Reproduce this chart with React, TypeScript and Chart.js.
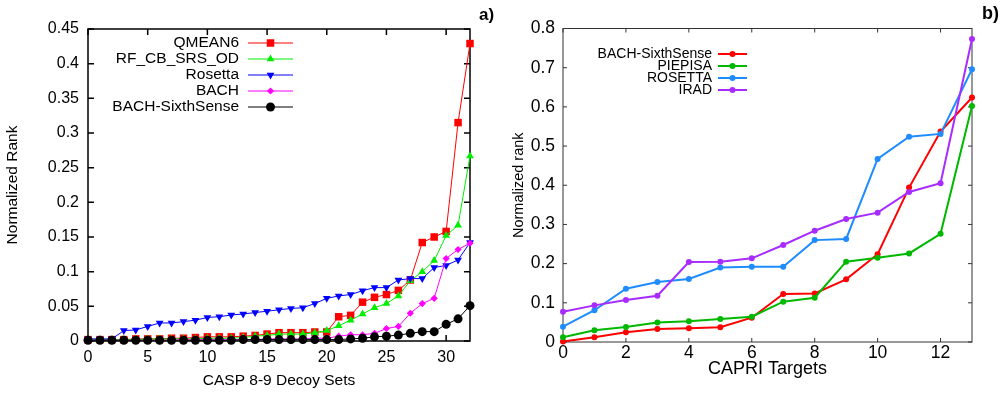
import React, { useEffect, useRef } from 'react';
import { Chart, registerables } from 'chart.js';
import { drawPoint } from 'chart.js/helpers';

Chart.register(...registerables);

// ---------- Panel a) CASP 8-9 decoy sets ----------
const caspSets = [0, 1, 2, 3, 4, 5, 6, 7, 8, 9, 10, 11, 12, 13, 14, 15, 16, 17, 18, 19, 20, 21, 22, 23, 24, 25, 26, 27, 28, 29, 30, 31, 32];
const qmean6 = [0.002, 0.002, 0.002, 0.002, 0.003, 0.003, 0.003, 0.004, 0.004, 0.005, 0.006, 0.006, 0.006, 0.007, 0.008, 0.010, 0.012, 0.012, 0.012, 0.013, 0.013, 0.035, 0.037, 0.056, 0.063, 0.067, 0.073, 0.088, 0.142, 0.150, 0.158, 0.315, 0.429];
const rfCbSrsOd = [0.002, 0.002, 0.002, 0.002, 0.002, 0.003, 0.003, 0.003, 0.003, 0.003, 0.004, 0.004, 0.004, 0.005, 0.007, 0.008, 0.010, 0.010, 0.010, 0.012, 0.015, 0.022, 0.030, 0.039, 0.048, 0.054, 0.065, 0.087, 0.100, 0.116, 0.152, 0.167, 0.267];
const rosetta = [0.003, 0.003, 0.003, 0.015, 0.016, 0.021, 0.026, 0.026, 0.028, 0.030, 0.034, 0.035, 0.0375, 0.039, 0.041, 0.043, 0.045, 0.047, 0.048, 0.054, 0.0615, 0.065, 0.067, 0.0725, 0.077, 0.077, 0.088, 0.090, 0.090, 0.106, 0.109, 0.117, 0.142];
const bach = [0.001, 0.001, 0.001, 0.001, 0.001, 0.001, 0.001, 0.001, 0.002, 0.002, 0.002, 0.002, 0.002, 0.002, 0.002, 0.003, 0.003, 0.003, 0.003, 0.004, 0.004, 0.007, 0.009, 0.009, 0.011, 0.018, 0.021, 0.040, 0.054, 0.0615, 0.119, 0.132, 0.141];
const bachSixthSenseA = [0.001, 0.001, 0.001, 0.001, 0.001, 0.001, 0.001, 0.001, 0.001, 0.001, 0.001, 0.001, 0.001, 0.002, 0.002, 0.002, 0.002, 0.002, 0.002, 0.002, 0.002, 0.002, 0.003, 0.004, 0.006, 0.007, 0.0085, 0.011, 0.0135, 0.0135, 0.024, 0.032, 0.051];
const caspXTicks = [0, 5, 10, 15, 20, 25, 30];
const caspYTicks = [0, 0.05, 0.1, 0.15, 0.2, 0.25, 0.3, 0.35, 0.4, 0.45];

// ---------- Panel b) CAPRI targets ----------
const capriTargets = [0, 1, 2, 3, 4, 5, 6, 7, 8, 9, 10, 11, 12, 13];
const bachSixthSenseB = [0.001, 0.012, 0.025, 0.033, 0.035, 0.0375, 0.062, 0.1225, 0.124, 0.16, 0.224, 0.394, 0.537, 0.624];
const piepisa = [0.012, 0.03, 0.038, 0.05, 0.053, 0.0587, 0.0646, 0.103, 0.113, 0.205, 0.215, 0.226, 0.276, 0.602];
const rosettaB = [0.039, 0.081, 0.136, 0.153, 0.161, 0.19, 0.192, 0.192, 0.26, 0.263, 0.467, 0.524, 0.531, 0.696];
const irad = [0.077, 0.0935, 0.107, 0.118, 0.204, 0.205, 0.2135, 0.2475, 0.284, 0.314, 0.33, 0.383, 0.405, 0.773];
const capriXTicks = [0, 2, 4, 6, 8, 10, 12];
const capriYTicks = [0, 0.1, 0.2, 0.3, 0.4, 0.5, 0.6, 0.7, 0.8];

const FONT = '"Liberation Sans", Arial, Helvetica, sans-serif';

const pts = (xs: number[], ys: number[]) => xs.map((x, i) => ({ x, y: ys[i] }));
const fmt = (v: any) => String(Math.round(Number(v) * 100) / 100);
const fixTicks = (vals: number[]) => (s: any) => { s.ticks = vals.map((v) => ({ value: v })); };

function framePlugin(len: number, color: string, width: number) {
  return {
    id: 'frameTicks',
    beforeDatasetsDraw(chart: any) {
      const { ctx, chartArea } = chart;
      const { left, right, top, bottom } = chartArea;
      const xs = chart.scales.x;
      const ys = chart.scales.y;
      ctx.save();
      ctx.strokeStyle = color;
      ctx.lineWidth = width;
      ctx.beginPath();
      xs.ticks.forEach((t: any) => {
        const p = xs.getPixelForValue(t.value);
        ctx.moveTo(p, bottom);
        ctx.lineTo(p, bottom - len);
        ctx.moveTo(p, top);
        ctx.lineTo(p, top + len);
      });
      ys.ticks.forEach((t: any) => {
        const p = ys.getPixelForValue(t.value);
        ctx.moveTo(left, p);
        ctx.lineTo(left + len, p);
        ctx.moveTo(right, p);
        ctx.lineTo(right - len, p);
      });
      ctx.stroke();
      ctx.strokeRect(left, top, right - left, bottom - top);
      ctx.restore();
    },
  };
}

function legendPlugin(cfg: { textRight: number; y0: number; dy: number; x1: number; x2: number; size: number }) {
  return {
    id: 'sideLegend',
    afterDatasetsDraw(chart: any) {
      const ctx = chart.ctx;
      ctx.save();
      ctx.font = `${cfg.size}px ${FONT}`;
      ctx.textAlign = 'right';
      ctx.textBaseline = 'middle';
      chart.data.datasets.forEach((ds: any, i: number) => {
        const y = cfg.y0 + i * cfg.dy;
        ctx.fillStyle = '#000';
        ctx.fillText(ds.label, cfg.textRight, y);
        ctx.strokeStyle = ds.borderColor;
        ctx.lineWidth = ds.borderWidth;
        ctx.beginPath();
        ctx.moveTo(cfg.x1, y);
        ctx.lineTo(cfg.x2, y);
        ctx.stroke();
        ctx.fillStyle = ds.pointBackgroundColor;
        ctx.strokeStyle = ds.pointBackgroundColor;
        drawPoint(ctx, { pointStyle: ds.pointStyle, radius: ds.pointRadius, rotation: ds.pointRotation || 0, borderWidth: 0 } as any, (cfg.x1 + cfg.x2) / 2, y);
      });
      ctx.restore();
    },
  };
}

function ds(label: string, xs: number[], ys: number[], color: string, style: string, radius: number, lw: number, order: number, rotation = 0) {
  return {
    label,
    data: pts(xs, ys),
    borderColor: color,
    backgroundColor: color,
    pointBackgroundColor: color,
    pointBorderColor: color,
    pointBorderWidth: 0,
    pointStyle: style,
    pointRadius: radius,
    pointRotation: rotation,
    borderWidth: lw,
    tension: 0,
    clip: false,
    order,
  };
}

export default function App() {
  const leftRef = useRef<HTMLCanvasElement>(null);
  const rightRef = useRef<HTMLCanvasElement>(null);

  useEffect(() => {
    Chart.defaults.font.family = FONT;
    Chart.defaults.color = '#000';

    const left = new Chart(leftRef.current!, {
      type: 'line',
      data: {
        datasets: [
          ds('QMEAN6', caspSets, qmean6, '#ff0000', 'rect', 5.3, 1, 4),
          ds('RF_CB_SRS_OD', caspSets, rfCbSrsOd, '#00ee00', 'triangle', 4.5, 1, 3),
          ds('Rosetta', caspSets, rosetta, '#0000ff', 'triangle', 4.5, 1, 2, 180),
          ds('BACH', caspSets, bach, '#ff00ff', 'rectRot', 3.6, 1, 1),
          ds('BACH-SixthSense', caspSets, bachSixthSenseA, '#000000', 'circle', 4.5, 1, 0),
        ] as any,
      },
      options: {
        animation: false,
        responsive: false,
        maintainAspectRatio: false,
        layout: { padding: { left: 0, top: 29, right: 33, bottom: 0 } },
        plugins: { legend: { display: false }, tooltip: { enabled: false } },
        scales: {
          x: {
            type: 'linear',
            min: 0,
            max: 32,
            afterFit: (s: any) => { s.height = 54; },
            afterBuildTicks: fixTicks(caspXTicks),
            grid: { display: false, drawTicks: false },
            border: { display: false },
            ticks: { padding: 6.5, font: { size: 16 }, color: '#000', maxRotation: 0, autoSkip: false },
            title: { display: true, text: 'CASP 8-9 Decoy Sets', font: { size: 15.5 }, color: '#000', padding: { top: 0, bottom: 4.5 } },
          },
          y: {
            type: 'linear',
            min: 0,
            max: 0.45,
            afterFit: (s: any) => { s.width = 88; },
            afterBuildTicks: fixTicks(caspYTicks),
            grid: { display: false, drawTicks: false },
            border: { display: false },
            ticks: { padding: 9, font: { size: 16 }, color: '#000', callback: fmt, autoSkip: false },
            title: { display: true, text: 'Normalized Rank', font: { size: 15.5 }, color: '#000', padding: { top: 3, bottom: 0 } },
          },
        },
      } as any,
      plugins: [framePlugin(6, '#000', 1.5), legendPlugin({ textRight: 239, y0: 43, dy: 16, x1: 248, x2: 293, size: 15.5 })],
    });

    const right = new Chart(rightRef.current!, {
      type: 'line',
      data: {
        datasets: [
          ds('BACH-SixthSense', capriTargets, bachSixthSenseB, '#ff0000', 'circle', 3, 2, 3),
          ds('PIEPISA', capriTargets, piepisa, '#00b800', 'circle', 3, 2, 2),
          ds('ROSETTA', capriTargets, rosettaB, '#1e8cff', 'circle', 3, 2, 1),
          ds('IRAD', capriTargets, irad, '#a82cff', 'circle', 3, 2, 0),
        ] as any,
      },
      options: {
        animation: false,
        responsive: false,
        maintainAspectRatio: false,
        layout: { padding: { left: 0, top: 28.5, right: 34, bottom: 0 } },
        plugins: { legend: { display: false }, tooltip: { enabled: false } },
        scales: {
          x: {
            type: 'linear',
            min: 0,
            max: 13,
            afterFit: (s: any) => { s.height = 53; },
            afterBuildTicks: fixTicks(capriXTicks),
            grid: { display: false, drawTicks: false },
            border: { display: false },
            ticks: { padding: 0.5, font: { size: 17.5 }, color: '#000', maxRotation: 0, autoSkip: false },
            title: { display: true, text: 'CAPRI Targets', font: { size: 18 }, color: '#000', padding: { top: 0, bottom: 15 } },
          },
          y: {
            type: 'linear',
            min: 0,
            max: 0.8,
            afterFit: (s: any) => { s.width = 60; },
            afterBuildTicks: fixTicks(capriYTicks),
            grid: { display: false, drawTicks: false },
            border: { display: false },
            ticks: { padding: 8, font: { size: 17.5 }, color: '#000', callback: fmt, autoSkip: false },
            title: { display: true, text: 'Normalized rank', font: { size: 14.5 }, color: '#000', padding: { top: 7, bottom: 0 } },
          },
        },
      } as any,
      plugins: [framePlugin(4, '#333', 1), legendPlugin({ textRight: 209, y0: 54, dy: 12, x1: 215, x2: 244, size: 14 })],
    });

    return () => {
      left.destroy();
      right.destroy();
    };
  }, []);

  return (
    <div style={{ position: 'absolute', left: 0, top: 0, width: 1006, height: 395, background: '#fff', fontFamily: FONT }}>
      <canvas ref={leftRef} width={503} height={395} style={{ position: 'absolute', left: 0, top: 0, width: 503, height: 395 }} />
      <canvas ref={rightRef} width={503} height={395} style={{ position: 'absolute', left: 503, top: 0, width: 503, height: 395 }} />
      <div style={{ position: 'absolute', left: 479, top: 5, font: `bold 17px ${FONT}`, lineHeight: '20px' }}>a)</div>
      <div style={{ position: 'absolute', left: 982, top: 3, font: `bold 18px ${FONT}`, lineHeight: '20px' }}>b)</div>
    </div>
  );
}
